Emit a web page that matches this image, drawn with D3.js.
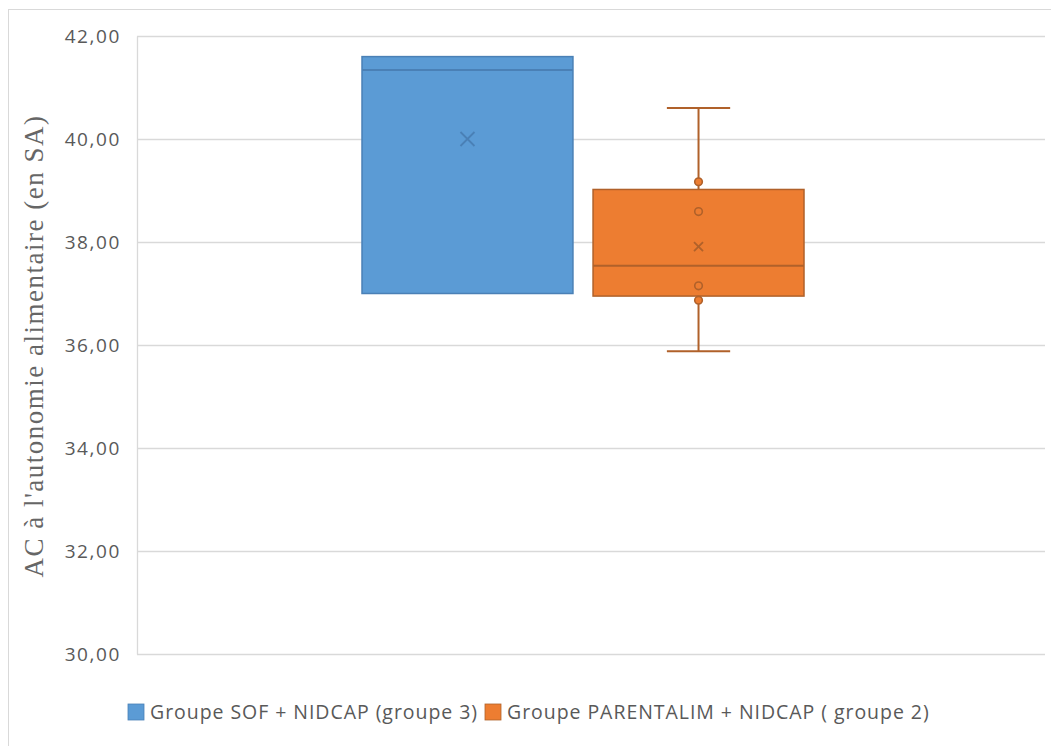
<!DOCTYPE html>
<html>
<head>
<meta charset="utf-8">
<script src="https://cdn.jsdelivr.net/npm/d3@7"></script>
<style>
  html, body { margin: 0; padding: 0; background: #fff; }
  svg { display: block; }
</style>
</head>
<body>
<svg id="chart" width="1051" height="746"></svg>
<script>
// ---- data ----
const seriesNames = ["Groupe SOF + NIDCAP (groupe 3)", "Groupe PARENTALIM + NIDCAP ( groupe 2)"];
const fillColors = ["#5B9BD5", "#ED7D31"];
const strokeColors = ["#4a80b6", "#b0612a"];
const q1Values = [37.0, 36.95];
const medianValues = [41.34, 37.54];
const q3Values = [41.6, 39.02];
const minValues = [37.0, 35.88];
const maxValues = [41.6, 40.6];
const meanValues = [40.0, 37.91];
const innerPoints = [[], [39.17, 38.59, 37.15, 36.87]];
const yTicks = [30, 32, 34, 36, 38, 40, 42];
const yTitle = "AC à l'autonomie alimentaire (en SA)";

// ---- layout ----
const svg = d3.select("#chart");
const plot = { left: 137, right: 1045, top: 36, bottom: 654 };

svg.append("rect").attr("x", 8.5).attr("y", 9.5).attr("width", 1200).attr("height", 900)
  .attr("fill", "#fff").attr("stroke", "#d9d9d9");

const y = d3.scaleLinear().domain([30, 42]).range([plot.bottom, plot.top]);
const x = d3.scaleBand().domain(seriesNames).range([362, 804]).paddingInner(0.087).paddingOuter(0);

// gridlines
svg.append("g").selectAll("line").data(yTicks).join("line")
  .attr("x1", plot.left).attr("x2", plot.right)
  .attr("y1", d => Math.round(y(d)) + 0.5).attr("y2", d => Math.round(y(d)) + 0.5)
  .attr("stroke", "#d9d9d9").attr("stroke-width", 1.3);

// axis
const fmt = d => d.toFixed(2).replace(".", ",");
const yAxis = d3.axisLeft(y).tickValues(yTicks).tickFormat(fmt).tickSize(0).tickPadding(16);
const gy = svg.append("g").attr("transform", `translate(${plot.left},0)`).call(yAxis);
gy.select(".domain").attr("stroke", "#d9d9d9").attr("stroke-width", 1.3);
gy.selectAll("text").attr("font-family", "'Open Sans', sans-serif").attr("font-size", 19)
  .attr("letter-spacing", 1.6).attr("fill", "#595959");

// y title
svg.append("text")
  .attr("transform", `translate(43,${(plot.top + plot.bottom) / 2 + 1}) rotate(-90)`)
  .attr("text-anchor", "middle")
  .attr("font-family", "'Liberation Serif', 'Times New Roman', serif")
  .attr("font-size", 27).attr("letter-spacing", 1.5).attr("fill", "#666666")
  .text(yTitle);

// boxes
const data = seriesNames.map((s, i) => ({
  s, i, q1: q1Values[i], med: medianValues[i], q3: q3Values[i],
  min: minValues[i], max: maxValues[i], mean: meanValues[i], pts: innerPoints[i]
}));

const g = svg.append("g");
data.forEach(d => {
  const x0 = x(d.s), w = x.bandwidth(), cx = x0 + w / 2;
  const cap = w * 0.3;
  if (d.max > d.q3) {
    g.append("line").attr("x1", cx).attr("x2", cx).attr("y1", y(d.max)).attr("y2", y(d.q3))
      .attr("stroke", strokeColors[d.i]).attr("stroke-width", 2);
    g.append("line").attr("x1", cx - cap / 2).attr("x2", cx + cap / 2).attr("y1", y(d.max)).attr("y2", y(d.max))
      .attr("stroke", strokeColors[d.i]).attr("stroke-width", 2);
  }
  if (d.min < d.q1) {
    g.append("line").attr("x1", cx).attr("x2", cx).attr("y1", y(d.q1)).attr("y2", y(d.min))
      .attr("stroke", strokeColors[d.i]).attr("stroke-width", 2);
    g.append("line").attr("x1", cx - cap / 2).attr("x2", cx + cap / 2).attr("y1", y(d.min)).attr("y2", y(d.min))
      .attr("stroke", strokeColors[d.i]).attr("stroke-width", 2);
  }
  g.append("rect").attr("x", x0).attr("y", y(d.q3)).attr("width", w).attr("height", y(d.q1) - y(d.q3))
    .attr("fill", fillColors[d.i]).attr("stroke", strokeColors[d.i]).attr("stroke-width", 1.5);
  g.append("line").attr("x1", x0).attr("x2", x0 + w).attr("y1", y(d.med)).attr("y2", y(d.med))
    .attr("stroke", strokeColors[d.i]).attr("stroke-width", 2);
  g.selectAll(null).data(d.pts).join("circle")
    .attr("cx", cx).attr("cy", v => y(v)).attr("r", 3.8)
    .attr("fill", fillColors[d.i]).attr("stroke", strokeColors[d.i]).attr("stroke-width", 1.6);
  const m = d.i === 0 ? 7 : 4.5;
  g.append("path")
    .attr("d", `M${cx - m},${y(d.mean) - m}L${cx + m},${y(d.mean) + m}M${cx - m},${y(d.mean) + m}L${cx + m},${y(d.mean) - m}`)
    .attr("stroke", strokeColors[d.i]).attr("stroke-width", 1.8).attr("fill", "none");
});

// legend
const legendX = [128, 485];
const lg = svg.append("g");
seriesNames.forEach((s, i) => {
  lg.append("rect").attr("x", legendX[i]).attr("y", 704).attr("width", 16).attr("height", 16)
    .attr("fill", fillColors[i]).attr("stroke", strokeColors[i]).attr("stroke-width", 0.8);
  lg.append("text").attr("x", legendX[i] + 22).attr("y", 719)
    .attr("font-family", "'Open Sans', sans-serif").attr("font-size", 19.5)
    .attr("letter-spacing", 0.95).attr("fill", "#595959").text(s);
});
</script>
</body>
</html>
